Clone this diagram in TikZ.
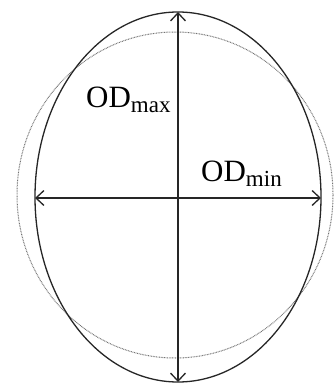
\documentclass[tikz,border=0pt]{standalone}
\usepackage{fontspec}
\setmainfont{Liberation Serif}
\usetikzlibrary{arrows.meta}
\newcommand{\mysub}[1]{\raisebox{-4.5pt}{\fontsize{23}{25}\selectfont #1}}
\begin{document}
\begin{tikzpicture}[x=1pt,y=-1pt,
  outline/.style={draw=black!85,line width=1.3pt},
  fitted/.style={draw=black!55,line width=1pt,dash pattern=on 0.8pt off 0.8pt},
  axis/.style={draw=black!85,line width=1.3pt,{Straight Barb[length=8pt,width=15pt]}-{Straight Barb[length=8pt,width=15pt]}},
  lbl/.style={font=\fontsize{31}{33}\selectfont,inner sep=0pt}]
\useasboundingbox (0,0) rectangle (333,387);
\fill[white] (0,0) rectangle (333,387);
\draw[fitted] (175,195) ellipse [x radius=158, y radius=163];
\draw[outline] (178,197) ellipse [x radius=143, y radius=185];
\coordinate (top) at (178,12);
\coordinate (bot) at (178,382);
\coordinate (lft) at (35,198);
\coordinate (rgt) at (321,198);
\draw[axis] (top) -- (bot);
\draw[axis] (lft) -- (rgt);
\node[lbl,anchor=base west] (odmax) at (86,108) {OD\mysub{max}};
\node[lbl,anchor=base west] (odmin) at (201,182) {OD\mysub{min}};
\end{tikzpicture}
\end{document}
